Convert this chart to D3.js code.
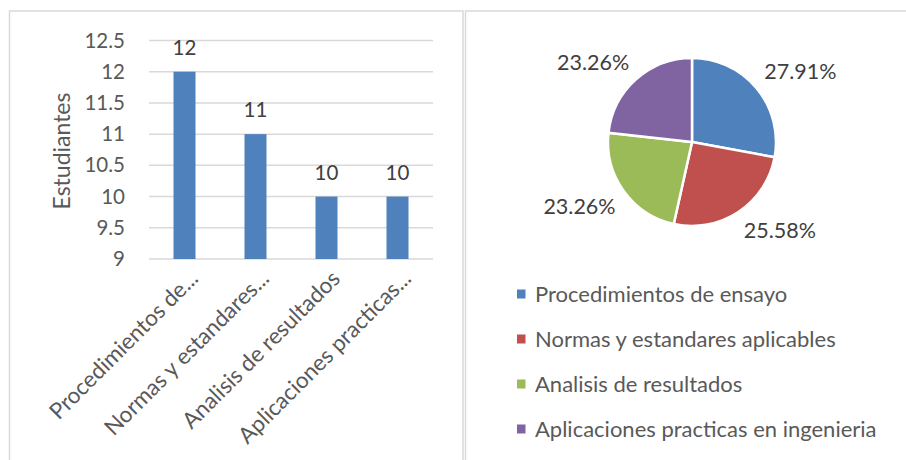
<!DOCTYPE html>
<html>
<head>
<meta charset="utf-8">
<script src="https://cdn.jsdelivr.net/npm/d3@7"></script>
<style>
  body { margin: 0; background: #fff; }
  text { font-family: Lato, "Open Sans", sans-serif; }
</style>
</head>
<body>
<svg id="chart" width="906" height="460"></svg>
<script>
// data
const categories = ["Procedimientos de ensayo", "Normas y estandares aplicables", "Analisis de resultados", "Aplicaciones practicas en ingenieria"];
const shortLabels = ["Procedimientos de...", "Normas y estandares...", "Analisis de resultados", "Aplicaciones practicas..."];
const students = [12, 11, 10, 10];
const yTicks = [9, 9.5, 10, 10.5, 11, 11.5, 12, 12.5];
const colors = ["#4f81bd", "#c0504d", "#9bbb59", "#8064a2"];

const svg = d3.select("#chart");
const grid = "#d9d9d9", txt = "#595959";

// panel frames
svg.append("rect").attr("x", 9.5).attr("y", 11).attr("width", 453.5).attr("height", 460)
  .attr("fill", "none").attr("stroke", grid).attr("stroke-width", 1.5);
svg.append("rect").attr("x", 465.5).attr("y", 11).attr("width", 450).attr("height", 460)
  .attr("fill", "none").attr("stroke", grid).attr("stroke-width", 1.5);

// ---- bar chart ----
const x = d3.scaleBand().domain(categories).range([149, 433]).paddingInner(0.69).paddingOuter(0.345);
const y = d3.scaleLinear().domain([9, 12.5]).range([259, 40.5]);

const g = svg.append("g");
g.selectAll(".grid").data(yTicks).enter().append("line")
  .attr("x1", 149).attr("x2", 433)
  .attr("y1", d => y(d)).attr("y2", d => y(d))
  .attr("stroke", grid).attr("stroke-width", 1.5);

const yAxis = g.append("g").attr("transform", "translate(149,0)")
  .call(d3.axisLeft(y).tickValues(yTicks).tickSize(0).tickPadding(24).tickFormat(d3.format("")));
yAxis.select(".domain").remove();
yAxis.selectAll("text").attr("font-size", 20.5).attr("fill", txt).style("font-family", "Lato, sans-serif");

g.selectAll(".bar").data(students).enter().append("rect")
  .attr("x", (d, i) => x(categories[i]))
  .attr("width", x.bandwidth())
  .attr("y", d => y(d))
  .attr("height", d => y(9) - y(d))
  .attr("fill", colors[0]);

g.selectAll(".val").data(students).enter().append("text")
  .attr("x", (d, i) => x(categories[i]) + x.bandwidth() / 2)
  .attr("y", d => y(d) - 17)
  .attr("text-anchor", "middle")
  .attr("font-size", 20.5).attr("fill", "#404040")
  .text(d => d);

g.selectAll(".xlab").data(shortLabels).enter().append("text")
  .attr("transform", (d, i) => "translate(" + (x(categories[i]) + x.bandwidth() / 2 + 15) + "," + 280 + ")rotate(-45)")
  .attr("text-anchor", "end")
  .attr("font-size", 22.5).attr("fill", txt)
  .text(d => d);

g.append("text")
  .attr("transform", "translate(70,151)rotate(-90)")
  .attr("text-anchor", "middle")
  .attr("font-size", 23).attr("fill", txt)
  .text("Estudiantes");

// ---- pie chart ----
const total = d3.sum(students);
const pie = d3.pie().sort(null).value(d => d);
const arcs = pie(students);
const r = 84;
const arc = d3.arc().innerRadius(0).outerRadius(r);

const pg = svg.append("g").attr("transform", "translate(692,142)");
pg.selectAll("path").data(arcs).enter().append("path")
  .attr("d", arc)
  .attr("fill", (d, i) => colors[i])
  .attr("stroke", "#fff").attr("stroke-width", 2.5);

// outside-end labels: box corner sits just off the slice edge
function labelPos(d) {
  const a = (d.startAngle + d.endAngle) / 2;
  const px = (r + 10) * Math.sin(a), py = -(r + 10) * Math.cos(a);
  return { x: px, y: py + (py < 0 ? -10 : 10), anchor: px > 0 ? "start" : "end" };
}
pg.selectAll(".pct").data(arcs).enter().append("text")
  .attr("x", d => labelPos(d).x)
  .attr("y", d => labelPos(d).y)
  .attr("dy", "0.35em")
  .attr("text-anchor", d => labelPos(d).anchor)
  .attr("font-size", 21.5).attr("fill", "#404040")
  .text(d => (d.data / total * 100).toFixed(2) + "%");

// legend
const lg = svg.append("g");
const ly = d3.scalePoint().domain(categories).range([294, 429]);
lg.selectAll("rect").data(categories).enter().append("rect")
  .attr("x", 517).attr("y", d => ly(d) - 4.5)
  .attr("width", 8.5).attr("height", 9)
  .attr("fill", (d, i) => colors[i]);
lg.selectAll("text").data(categories).enter().append("text")
  .attr("x", 535).attr("y", d => ly(d))
  .attr("dy", "0.35em")
  .attr("font-size", 22).attr("fill", txt)
  .text(d => d);
</script>
</body>
</html>
